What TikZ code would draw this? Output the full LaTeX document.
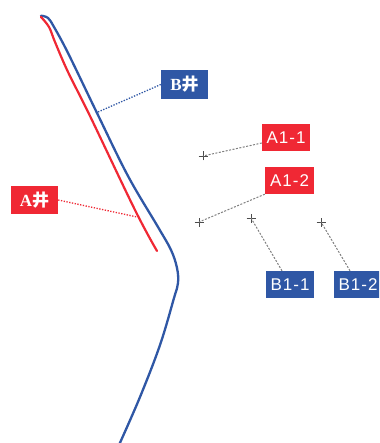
\documentclass[tikz,border=0pt]{standalone}
\usepackage{fontspec}
\setmainfont[LetterSpace=6]{Liberation Sans}
\newfontfamily\labelserif{Liberation Serif}
\newfontfamily\cjk{Noto Sans CJK SC}
\definecolor{wellred}{RGB}{240,40,52}
\definecolor{wellblue}{RGB}{47,87,165}
\tikzset{
  x=1pt,y=-1pt,
  tagbox/.style={draw=none,inner sep=0pt,text=white,minimum height=27pt,font=\fontsize{17}{18}\selectfont},
  redtag/.style={tagbox,fill=wellred},
  bluetag/.style={tagbox,fill=wellblue},
  welltag/.style={minimum width=47pt,minimum height=28.5pt,font=\fontsize{17}{18}\selectfont},
  trackred/.style={draw=wellred,line width=2.2pt,line cap=round,line join=round},
  trackblue/.style={draw=wellblue,line width=2.3pt,line cap=round,line join=round},
  leaderred/.style={draw=wellred,line width=1.3pt,dash pattern=on 1.3pt off 1.5pt},
  leaderblue/.style={draw=wellblue,line width=1.3pt,dash pattern=on 1.3pt off 1.5pt},
  leadergray/.style={draw=gray,line width=1pt,dash pattern=on 2pt off 1.5pt},
  crosstick/.style={draw=black!70,line width=.7pt},
}
\newcommand{\wellname}[1]{{\labelserif\bfseries #1}{\cjk\bfseries 井}}
\begin{document}
\begin{tikzpicture}
\useasboundingbox[fill=white] (0,0) rectangle (379,443);
\begin{scope}
\clip (0,0) rectangle (379,443);
% wells
\draw[trackblue] plot[smooth,tension=.6] coordinates {(41,15.7) (48,18) (54,27) (68,53) (97,113) (128,176) (158,227) (171,250) (177,268) (178,283) (174,298) (160,345) (140,397) (119,445)};
\draw[trackred] plot[smooth,tension=.6] coordinates {(41,17) (49,27) (55,42) (68,72) (90,116) (135,210) (157,251)};
% labels
\node[bluetag,welltag] (bwell) at (184.5,84.5) {\wellname{B}};
\node[redtag,welltag] (awell) at (34.5,200) {\wellname{A}};
\node[redtag,minimum width=48pt] (a11) at (286,137.5) {A1-1};
\node[redtag,minimum width=49pt] (a12) at (289.5,180.5) {A1-2};
\node[bluetag,minimum width=48pt] (b11) at (290,284.5) {B1-1};
\node[bluetag,minimum width=48pt] (b12) at (358,284.5) {B1-2};
% anchor points
\coordinate (bpt) at (98,112);
\coordinate (apt) at (137,217);
\coordinate (c1) at (203,156);
\coordinate (c2) at (199,222);
\coordinate (c3) at (251,218);
\coordinate (c4) at (321,222);
\coordinate (a11s) at ([yshift=-5.5pt]a11.west);
\coordinate (b11s) at ([xshift=-8pt]b11.north);
\coordinate (b12s) at ([xshift=-8pt]b12.north);
% crosses
\foreach \c in {c1,c2,c3,c4}{
  \draw[crosstick] ([xshift=-4.5pt]\c) -- ([xshift=4.5pt]\c);
  \draw[crosstick] ([yshift=-4.5pt]\c) -- ([yshift=4.5pt]\c);
}
% leaders
\draw[leaderblue] (bwell.west) -- (bpt);
\draw[leaderred] (awell.east) -- (apt);
\draw[leadergray] (a11s) -- (c1);
\draw[leadergray] (a12.south west) -- (c2);
\draw[leadergray] (b11s) -- (c3);
\draw[leadergray] (b12s) -- (c4);
\end{scope}
\end{tikzpicture}
\end{document}
